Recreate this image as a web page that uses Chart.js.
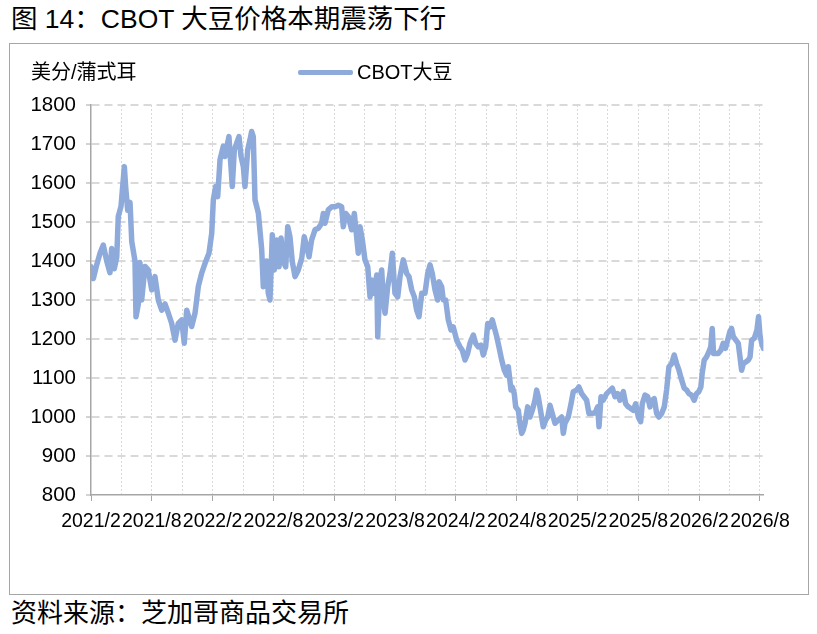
<!DOCTYPE html>
<html>
<head>
<meta charset="utf-8">
<script src="https://cdn.jsdelivr.net/npm/chart.js@4/dist/chart.umd.min.js"></script>
<style>
  body { margin: 0; width: 817px; height: 634px; background: #fff; position: relative; overflow: hidden;
         font-family: "Liberation Sans", Arial, "Noto Sans CJK SC", sans-serif; color: #000; }
  #title { position: absolute; left: 11px; top: 4px; font-size: 26.5px; line-height: 30px; white-space: nowrap; }
  #frame { position: absolute; left: 9px; top: 43px; width: 798px; height: 550px; border: 1px solid #a6a6a6; }
  #frame canvas { position: absolute; left: 0; top: 0; }
  #unit { position: absolute; left: 31px; top: 60px; font-size: 20px; line-height: 24px; white-space: nowrap; }
  #legend { position: absolute; left: 298px; top: 60px; height: 24px; white-space: nowrap; font-size: 20px; line-height: 24px; }
  #legend .swatch { display: inline-block; width: 55px; height: 5px; border-radius: 2px; vertical-align: middle; margin-right: 4px; position: relative; top: -1px; }
  #footer { position: absolute; left: 11px; top: 598px; font-size: 26px; line-height: 30px; white-space: nowrap; }
</style>
</head>
<body>
<div id="title">图 14：CBOT 大豆价格本期震荡下行</div>
<div id="frame"><canvas id="soyChart" width="798" height="550"></canvas></div>
<div id="unit">美分/蒲式耳</div>
<div id="legend"><span class="swatch" id="legendSwatch"></span><span id="legendText"></span></div>
<div id="footer">资料来源：芝加哥商品交易所</div>

<script>
// months counted from 2021/2
const months = [
  0.00, 0.23, 0.56, 0.89, 1.21, 1.55, 1.87, 2.04, 2.30, 2.54, 2.69, 2.96, 3.29, 3.42, 3.62, 3.85,
  4.02, 4.34, 4.44, 4.67, 4.83, 5.00, 5.33, 5.65, 5.99, 6.31, 6.64, 6.98, 7.30, 7.63, 7.96, 8.29,
  8.61, 8.95, 9.20, 9.44, 9.93, 10.26, 10.59, 10.92, 11.25, 11.64, 11.91, 12.07, 12.30, 12.50, 12.73, 13.05,
  13.22, 13.61, 13.81, 13.94, 14.14, 14.60, 14.80, 15.03, 15.19, 15.46, 15.69, 15.85, 16.01, 16.18, 16.51, 16.84,
  17.00, 17.33, 17.49, 17.66, 17.89, 18.08, 18.32, 18.55, 18.75, 18.97, 19.21, 19.41, 19.63, 19.86, 20.13, 20.45,
  20.79, 21.04, 21.28, 21.51, 21.77, 22.10, 22.43, 22.76, 22.92, 23.09, 23.41, 23.75, 24.07, 24.40, 24.73, 24.89,
  25.13, 25.38, 25.72, 25.98, 26.37, 26.54, 26.77, 27.03, 27.30, 27.53, 27.75, 27.95, 28.19, 28.29, 28.51, 28.68,
  28.84, 29.01, 29.27, 29.50, 29.73, 29.99, 30.26, 30.49, 30.81, 31.15, 31.37, 31.64, 31.90, 32.13, 32.36, 32.63,
  32.95, 33.22, 33.45, 33.67, 33.94, 34.20, 34.33, 34.60, 34.76, 34.99, 35.25, 35.52, 35.74, 36.08, 36.40, 36.63,
  36.90, 37.16, 37.39, 37.72, 37.95, 38.21, 38.48, 38.70, 38.94, 39.14, 39.36, 39.59, 40.03, 40.25, 40.52, 40.78,
  41.01, 41.17, 41.44, 41.56, 41.76, 41.90, 42.16, 42.32, 42.49, 42.65, 42.82, 43.08, 43.31, 43.54, 43.80, 43.97,
  44.13, 44.40, 44.62, 44.86, 45.06, 45.28, 45.51, 45.78, 46.10, 46.44, 46.60, 46.76, 47.09, 47.36, 47.58, 47.92,
  48.14, 48.41, 48.90, 49.13, 49.72, 49.99, 50.12, 50.32, 50.54, 50.88, 51.43, 51.70, 51.96, 52.19, 52.52, 52.75,
  53.01, 53.50, 53.74, 54.00, 54.23, 54.39, 54.66, 54.92, 55.15, 55.38, 55.57, 55.81, 56.03, 56.30, 56.56, 56.79,
  57.02, 57.29, 57.54, 57.78, 58.01, 58.27, 58.53, 58.77, 58.99, 59.26, 59.51, 59.75, 59.97, 60.17, 60.30, 60.50,
  60.73, 60.96, 61.15, 61.29, 61.42, 61.88, 62.14, 62.37, 62.60, 63.03, 63.20, 63.37, 63.86, 64.03, 64.19, 64.36,
  64.60, 64.86, 65.02, 65.18, 65.44, 65.70, 65.86, 66.00, 66.17, 66.34
];

// CBOT soybean, US cents per bushel
const prices = [
  1385, 1355, 1390, 1420, 1441, 1400, 1370, 1432, 1380, 1410, 1514, 1540, 1642, 1590, 1530, 1550,
  1450, 1400, 1257, 1290, 1396, 1300, 1386, 1377, 1326, 1360, 1300, 1274, 1290, 1266, 1240, 1197,
  1240, 1249, 1189, 1274, 1232, 1266, 1335, 1369, 1394, 1420, 1471, 1557, 1591, 1565, 1660, 1694,
  1668, 1719, 1642, 1591, 1685, 1719, 1668, 1642, 1591, 1685, 1711, 1732, 1719, 1557, 1523, 1430,
  1334, 1400, 1318, 1300, 1467, 1377, 1454, 1385, 1459, 1398, 1385, 1488, 1462, 1398, 1360, 1377,
  1407, 1462, 1437, 1411, 1454, 1480, 1484, 1497, 1522, 1497, 1531, 1539, 1539, 1543, 1539, 1488,
  1522, 1514, 1480, 1522, 1420, 1488, 1454, 1403, 1386, 1308, 1351, 1317, 1364, 1206, 1351, 1377,
  1300, 1266, 1334, 1368, 1420, 1317, 1308, 1360, 1403, 1368, 1360, 1326, 1308, 1274, 1257, 1317,
  1317, 1368, 1390, 1368, 1326, 1300, 1347, 1334, 1300, 1300, 1249, 1223, 1231, 1197, 1180, 1171,
  1146, 1163, 1189, 1210, 1189, 1180, 1184, 1159, 1180, 1240, 1231, 1249, 1206, 1180, 1146, 1120,
  1107, 1129, 1069, 1077, 1060, 1026, 1017, 984, 958, 967, 984, 1026, 1000, 1017, 1043, 1069,
  1052, 1009, 975, 992, 1000, 1030, 1009, 984, 992, 1000, 958, 984, 1000, 1034, 1065, 1069,
  1077, 1060, 1043, 1009, 1010, 1026, 975, 1052, 1043, 1060, 1074, 1052, 1060, 1043, 1065, 1034,
  1026, 1017, 1034, 1000, 988, 1034, 1056, 1052, 1026, 1043, 1047, 1009, 1000, 1009, 1026, 1069,
  1129, 1137, 1159, 1137, 1120, 1095, 1074, 1069, 1060, 1056, 1043, 1060, 1065, 1077, 1112, 1146,
  1154, 1167, 1180, 1227, 1163, 1163, 1171, 1189, 1176, 1219, 1227, 1206, 1189, 1154, 1120, 1137,
  1141, 1146, 1154, 1197, 1202, 1223, 1257, 1210, 1189, 1176
];

const tickLabels = ["2021/2", "2021/8", "2022/2", "2022/8", "2023/2", "2023/8",
                    "2024/2", "2024/8", "2025/2", "2025/8", "2026/2", "2026/8"];
const seriesName = "CBOT大豆";
const lineColor = "#8eaadb";
const axisColor = "#a6a6a6";
const gridColor = "#d9d9d9";
const tickFont = "'Liberation Sans', Arial, sans-serif";

document.getElementById("legendSwatch").style.background = lineColor;
document.getElementById("legendText").textContent = seriesName;

const points = months.map((m, i) => ({ x: m, y: prices[i] }));

const soyChart = new Chart(document.getElementById("soyChart"), {
  type: "line",
  data: {
    datasets: [{
      label: seriesName,
      data: points,
      borderColor: lineColor,
      backgroundColor: lineColor,
      borderWidth: 5.5,
      pointRadius: 0,
      tension: 0,
      borderJoinStyle: "round",
      borderCapStyle: "round"
    }]
  },
  options: {
    responsive: false,
    animation: false,
    devicePixelRatio: 1,
    layout: { padding: { left: 0, right: 44.6, top: 61, bottom: 0 } },
    plugins: {
      legend: { display: false },
      tooltip: { enabled: false }
    },
    scales: {
      x: {
        type: "linear",
        min: 0,
        max: months[months.length - 1],
        afterBuildTicks: (scale) => {
          // a grid line every 3 months, a label every 6
          scale.ticks = [];
          for (let i = 0; i <= (tickLabels.length - 1) * 2; i++) {
            scale.ticks.push({ value: i * 3 });
          }
        },
        afterFit: (scale) => { scale.height = 99; },
        ticks: {
          autoSkip: false,
          maxRotation: 0,
          minRotation: 0,
          padding: 9,
          color: "#000",
          font: { family: tickFont, size: 19.5 },
          callback: (value) => (value % 6 === 0 ? tickLabels[value / 6] : "")
        },
        grid: {
          color: (ctx) => (ctx.tick && ctx.tick.value === 0 ? "transparent" : gridColor),
          lineWidth: 1,
          tickLength: 6,
          tickColor: (ctx) => (ctx.tick && ctx.tick.value % 6 === 0 ? axisColor : "transparent"),
          tickWidth: 1
        },
        border: { color: axisColor, width: 1.5, dash: [2, 2] }
      },
      y: {
        min: 800,
        max: 1800,
        afterFit: (scale) => { scale.width = 81; },
        ticks: {
          stepSize: 100,
          padding: 10,
          color: "#000",
          font: { family: tickFont, size: 20.5 },
          callback: (value) => String(value)
        },
        grid: {
          color: (ctx) => (ctx.tick && ctx.tick.value === 800 ? "transparent" : gridColor),
          lineWidth: 2,
          tickLength: 5,
          tickColor: axisColor,
          tickWidth: 1
        },
        border: { color: axisColor, width: 1.5, dash: [8, 5] }
      }
    }
  }
});
</script>
</body>
</html>
